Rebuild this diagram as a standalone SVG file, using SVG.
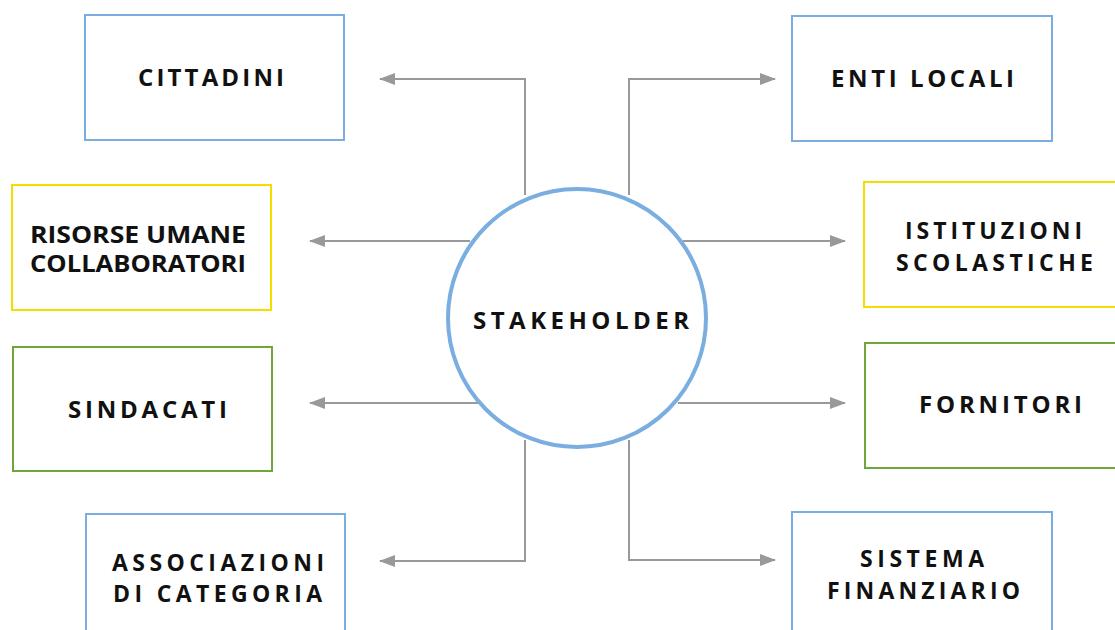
<svg xmlns="http://www.w3.org/2000/svg" width="1115" height="630" viewBox="0 0 1115 630">
<style>
.box{fill:#fff;stroke-width:2}
.blue{stroke:#7aade0}
.yellow{stroke:#f7dc00}
.green{stroke:#6fa63a}
.t{font-family:"Open Sans","Liberation Sans",sans-serif;font-weight:700;font-size:23px;fill:#111}
.s{font-size:24px}
.c{fill:none;stroke:#999;stroke-width:2}
</style>
<defs>
<marker id="ah" markerWidth="16" markerHeight="12" refX="15" refY="6" orient="auto" markerUnits="userSpaceOnUse">
<path d="M0,0 L16,6 L0,12 Z" fill="#999"/>
</marker>
</defs>
<rect width="1115" height="630" fill="#fff"/>
<g id="connectors">
<path class="c" d="M525,195 V79 H380" marker-end="url(#ah)"/>
<path class="c" d="M629,195 V79 H775" marker-end="url(#ah)"/>
<path class="c" d="M470,241 H310" marker-end="url(#ah)"/>
<path class="c" d="M683,241 H845" marker-end="url(#ah)"/>
<path class="c" d="M478,403 H310" marker-end="url(#ah)"/>
<path class="c" d="M678,403 H845" marker-end="url(#ah)"/>
<path class="c" d="M525,440 V561 H380" marker-end="url(#ah)"/>
<path class="c" d="M629,440 V560 H775" marker-end="url(#ah)"/>
</g>
<g id="stakeholder">
<circle cx="577" cy="318" r="129" fill="#fff" stroke="#7aade0" stroke-width="4"/>
<text class="t s" x="473" y="329" textLength="216" lengthAdjust="spacing">STAKEHOLDER</text>
</g>
<g id="cittadini">
<rect class="box blue" x="85" y="15" width="259" height="125"/>
<text class="t s" x="138" y="86" textLength="146" lengthAdjust="spacing">CITTADINI</text>
</g>
<g id="enti-locali">
<rect class="box blue" x="792" y="16" width="260" height="125"/>
<text class="t s" x="831" y="87" textLength="183" lengthAdjust="spacing">ENTI LOCALI</text>
</g>
<g id="risorse-umane">
<rect class="box yellow" x="12" y="185" width="259" height="125"/>
<text class="t" x="30" y="243" textLength="216" lengthAdjust="spacingAndGlyphs">RISORSE UMANE</text>
<text class="t" x="30" y="272" textLength="216" lengthAdjust="spacingAndGlyphs">COLLABORATORI</text>
</g>
<g id="istituzioni">
<rect class="box yellow" x="864" y="182" width="260" height="125"/>
<text class="t" x="905" y="239" textLength="177" lengthAdjust="spacing">ISTITUZIONI</text>
<text class="t" x="896" y="271" textLength="197" lengthAdjust="spacing">SCOLASTICHE</text>
</g>
<g id="sindacati">
<rect class="box green" x="13" y="347" width="259" height="124"/>
<text class="t s" x="68" y="418" textLength="159" lengthAdjust="spacing">SINDACATI</text>
</g>
<g id="fornitori">
<rect class="box green" x="865" y="343" width="260" height="125"/>
<text class="t s" x="919" y="413" textLength="163" lengthAdjust="spacing">FORNITORI</text>
</g>
<g id="associazioni">
<rect class="box blue" x="86" y="514" width="259" height="130"/>
<text class="t" x="112" y="571" textLength="212" lengthAdjust="spacing">ASSOCIAZIONI</text>
<text class="t" x="113" y="602" textLength="209" lengthAdjust="spacing">DI CATEGORIA</text>
</g>
<g id="sistema">
<rect class="box blue" x="792" y="512" width="260" height="130"/>
<text class="t" x="860" y="567" textLength="124" lengthAdjust="spacing">SISTEMA</text>
<text class="t" x="827" y="599" textLength="193" lengthAdjust="spacing">FINANZIARIO</text>
</g>
</svg>
